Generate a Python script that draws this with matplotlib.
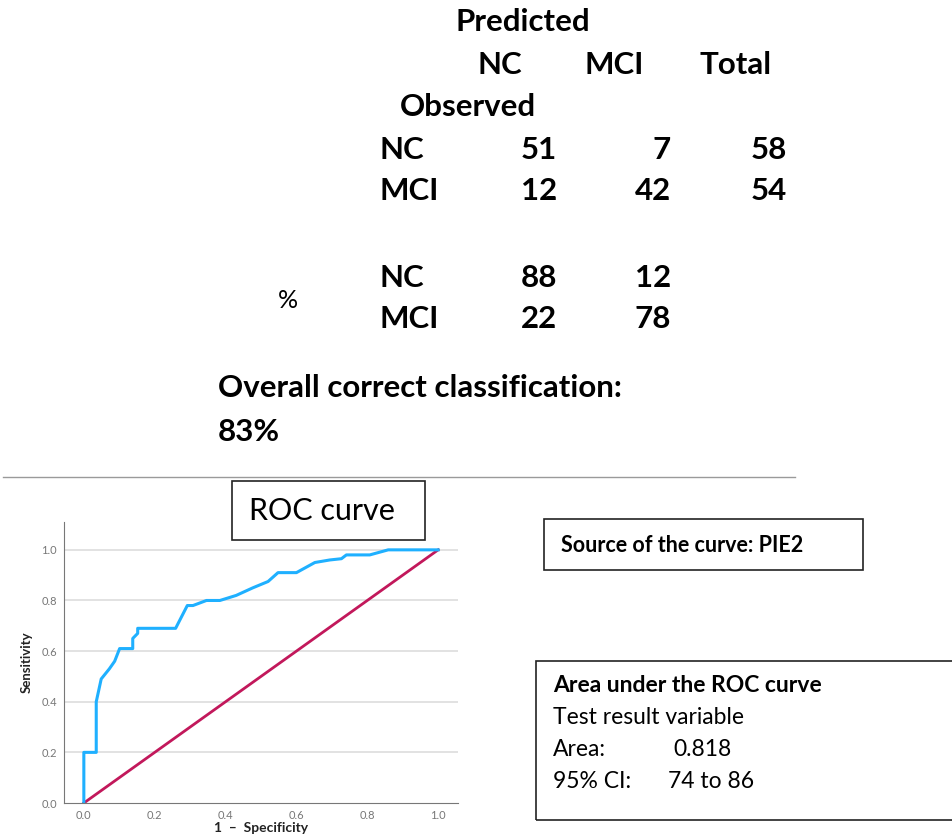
import matplotlib.pyplot as plt
from matplotlib.patches import Rectangle

# classification table
pred_cols = ['NC', 'MCI', 'Total']
obs_rows = ['NC', 'MCI']
counts = [[51, 7, 58], [12, 42, 54]]
percents = [[88, 12], [22, 78]]
overall = 83

# ROC curve points (1 - specificity, sensitivity)
fpr = [0.0, 0.0, 0.035, 0.035, 0.049, 0.072, 0.087, 0.101, 0.138, 0.138, 0.152, 0.152,
       0.259, 0.292, 0.308, 0.346, 0.384, 0.43, 0.477, 0.52, 0.548, 0.6, 0.652, 0.694,
       0.727, 0.741, 0.807, 0.859, 1.0]
tpr = [0.0, 0.2, 0.2, 0.4, 0.49, 0.53, 0.56, 0.61, 0.61, 0.65, 0.67, 0.69,
       0.69, 0.78, 0.78, 0.80, 0.80, 0.82, 0.85, 0.875, 0.91, 0.91, 0.95, 0.96,
       0.965, 0.98, 0.98, 1.0, 1.0]
ticks = [0.0, 0.2, 0.4, 0.6, 0.8, 1.0]
area = 0.818
ci = '74 to 86'
source = 'PIE2'

W, H = 952, 836
plt.rcParams['font.family'] = ['Lato', 'DejaVu Sans']
fig = plt.figure(figsize=(W / 100, H / 100), dpi=100)

def px(x, y):
    # pixel coords (from top-left) -> figure fraction
    return x / W, 1 - y / H

def txt(x, y, s, size=22.5, weight='bold', ha='left', **kw):
    fx, fy = px(x, y)
    fig.text(fx, fy, s, fontsize=size, fontweight=weight, ha=ha, va='center', **kw)

# top table
txt(523, 22, 'Predicted', ha='center')
col_x = [500, 614, 736]
for cx, c in zip(col_x, pred_cols):
    txt(cx, 65, c, ha='center')
txt(400, 107, 'Observed')
num_x = [557, 671, 787]
for i, (r, row) in enumerate(zip(obs_rows, counts)):
    y = 150 + i * 41
    txt(380, y, r)
    for nx, v in zip(num_x, row):
        txt(nx, y, str(v), ha='right')
for i, (r, row) in enumerate(zip(obs_rows, percents)):
    y = 278 + i * 41
    txt(380, y, r)
    for nx, v in zip(num_x, row):
        txt(nx, y, str(v), ha='right')
txt(288, 300, '%', size=18, weight='normal', ha='center')
txt(218, 388, 'Overall correct classification:')
txt(218, 432, f'{overall}%')

# separator line
fig.add_artist(plt.Line2D([3 / W, 795 / W], [1 - 477 / H] * 2, color='#9a9a9a', lw=1))

# ROC axes
ax = fig.add_axes([64 / W, 33 / H, 394 / W, 281 / H])
ax.plot([0, 1], [0, 1], color='#c2185b', lw=2)
ax.plot(fpr, tpr, color='#1fb0ff', lw=2.2)
ax.set_xlim(-0.056, 1.056)
ax.set_ylim(0, 1.11)
ax.set_xticks(ticks)
ax.set_yticks(ticks)
ax.set_xticklabels([f'{t:.1f}' for t in ticks], fontsize=8, color='#777777')
ax.set_yticklabels([f'{t:.1f}' for t in ticks], fontsize=8, color='#777777')
ax.tick_params(length=0, pad=5)
for t in ticks[1:]:
    ax.axhline(t, color='#dddddd', lw=1.2, zorder=0)
ax.spines['top'].set_visible(False)
ax.spines['right'].set_visible(False)
ax.spines['left'].set_color('#777777')
ax.spines['bottom'].set_color('#777777')
ax.set_xlabel('1  \u2013  Specificity', fontsize=10, fontweight='bold', labelpad=0.5,
              color='#222222')
ax.set_ylabel('Sensitivity', fontsize=9.5, fontweight='bold', labelpad=6, color='#222222')

# boxes
def box(x0, y0, x1, y1):
    fig.add_artist(Rectangle((x0 / W, 1 - y1 / H), (x1 - x0) / W, (y1 - y0) / H,
                             fill=False, edgecolor='#222222', lw=1.2))

box(232, 481, 425, 540)
txt(322, 511, 'ROC curve', size=22, weight='normal', ha='center')

box(544, 519, 863, 570)
txt(561, 545, f'Source of the curve: {source}', size=15.5)

# right edge runs off the picture, as in the reference
box(536, 661, 960, 820)
txt(553, 686, 'Area under the ROC curve', size=16.5)
txt(553, 718, 'Test result variable', size=16.5, weight='normal')
txt(553, 750, 'Area:', size=16.5, weight='normal')
txt(673, 750, f'{area:.3f}', size=16.5, weight='normal')
txt(553, 781, '95% CI:', size=16.5, weight='normal')
txt(668, 781, ci, size=16.5, weight='normal')

fig.savefig('out.png', dpi=100)
